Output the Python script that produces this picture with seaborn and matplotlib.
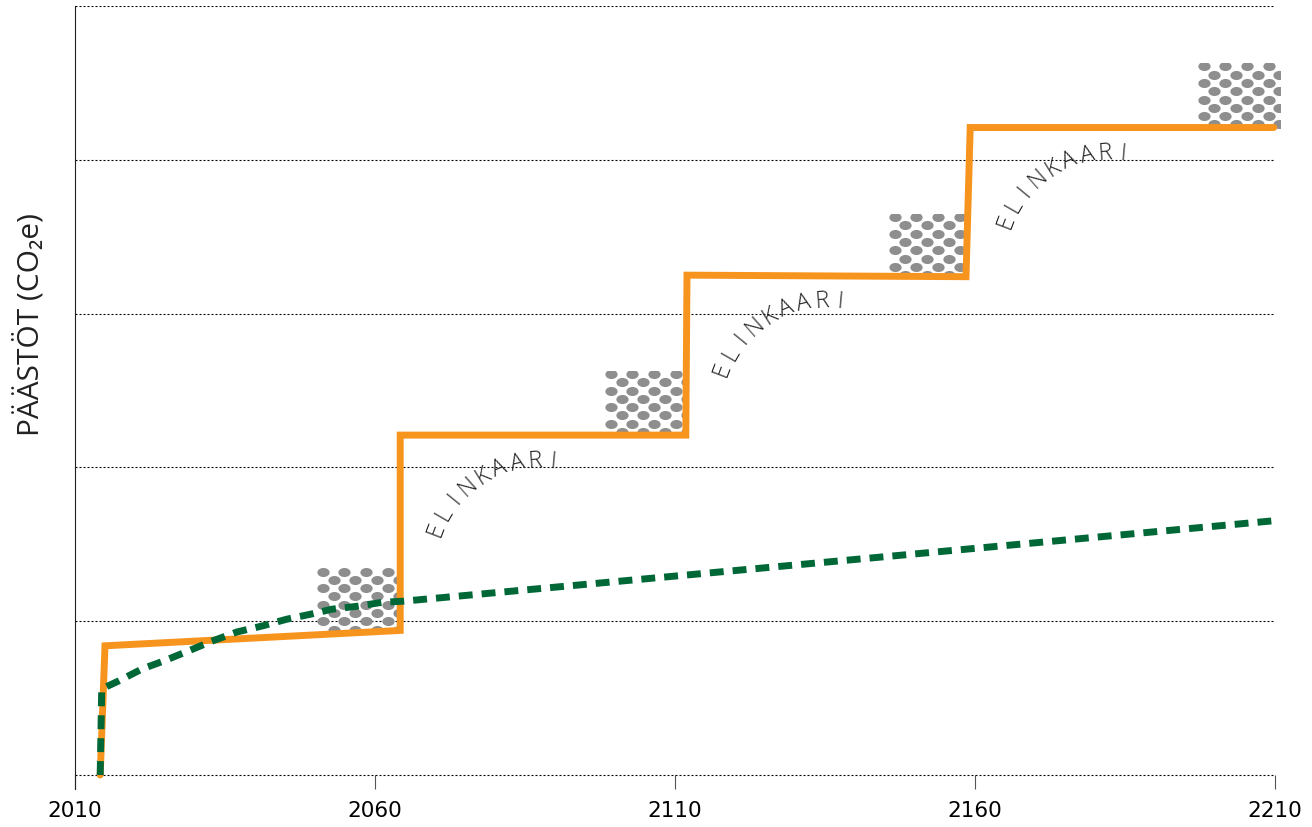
import numpy as np
import pandas as pd
import seaborn as sns
import matplotlib.pyplot as plt
from matplotlib.path import Path
from matplotlib.patches import Rectangle
from matplotlib.transforms import Affine2D

#%% datos
x_ticks = [2010, 2060, 2110, 2160, 2210]
y_grid = [0, 1, 2, 3, 4, 5]

# linea naranja (escalones)
orange_x = [2014.2, 2015.0, 2064.2, 2064.2, 2111.8, 2112.0, 2158.5, 2159.2, 2209.8]
orange_y = [0.0, 0.84, 0.94, 2.21, 2.21, 3.25, 3.24, 4.21, 4.21]

# linea verde discontinua
green_x = [2014.2, 2014.45, 2017.2, 2021.2, 2024.7, 2028.8, 2032.8, 2037.0, 2041.3,
           2045.3, 2049.2, 2052.8, 2057.0, 2061.2, 2064.7, 2210.6]
green_y = [0.0, 0.56, 0.61, 0.69, 0.74, 0.805, 0.87, 0.93, 0.97,
           1.013, 1.045, 1.078, 1.097, 1.123, 1.13, 1.656]

# cajas punteadas (x0, x1, y0, y1)
box_x0 = [2050.2, 2098.2, 2145.5, 2197.0]
box_x1 = [2063.6, 2111.8, 2158.3, 2210.8]
box_y0 = [0.93, 2.21, 3.24, 4.21]
box_y1 = [1.345, 2.63, 3.65, 4.63]

label_word = 'ELINKAARI'
step_corners = [3, 5, 7]  # indices de orange_x/orange_y donde empieza cada texto

#%% estilo
sns.set_theme(style='white')
plt.rcParams['font.family'] = ['DejaVu Sans']

orange = '#F7941D'
green = '#006837'
dot_gray = '#8e8e8e'

fig = plt.figure(figsize=(13.12, 8.28), dpi=100)
ax = fig.add_axes([75 / 1312, 38 / 828, 1200 / 1312, 783 / 828])

#%% cajas con puntos
ell = Path.unit_circle().transformed(Affine2D().scale(1.0, 0.74))
for x0, x1, y0, y1 in zip(box_x0, box_x1, box_y0, box_y1):
    rect = Rectangle((x0, y0), x1 - x0, y1 - y0, facecolor='none',
                     edgecolor='none', zorder=2)
    ax.add_patch(rect)
    px, py = [], []
    i = 0
    yy = y1 - 0.022
    while yy > y0 - 0.04:
        xx = x0 + 1.1 + (i % 2) * 1.805
        while xx < x1 + 1.0:
            px.append(xx)
            py.append(yy)
            xx += 3.61
        yy -= 0.054
        i += 1
    sc = ax.scatter(px, py, s=78, marker=ell, color=dot_gray, linewidths=0, zorder=2)
    sc.set_clip_path(rect)

#%% lineas
orange_df = pd.DataFrame({'year': orange_x, 'val': orange_y})
green_df = pd.DataFrame({'year': green_x, 'val': green_y})

sns.lineplot(data=green_df, x='year', y='val', sort=False, estimator=None,
             color=green, linewidth=5, ax=ax, zorder=3)
gl = ax.lines[-1]
gl.set_linestyle((0, (2.0, 1.3)))
gl.set_dash_capstyle('butt')
gl.set_clip_on(False)

sns.lineplot(data=orange_df, x='year', y='val', sort=False, estimator=None,
             color=orange, linewidth=5, ax=ax, zorder=4)
ol = ax.lines[-1]
ol.set_solid_capstyle('round')
ol.set_solid_joinstyle('miter')
ol.set_clip_on(False)

# la verde encima de la naranja en el arranque
gl.set_zorder(5)

#%% textos curvos ELINKAARI
n = len(label_word)
for idx in step_corners:
    corner = (orange_x[idx], orange_y[idx])
    for k, ch in enumerate(label_word):
        ang = 157.3 - k * 74.5 / (n - 1)
        a = np.deg2rad(ang)
        dx = 139 + 112 * np.cos(a)
        dy = -137 + 112 * np.sin(a)
        ax.annotate(ch, xy=corner, xytext=(dx, dy), textcoords='offset pixels',
                    rotation=ang - 88, rotation_mode='anchor', ha='center', va='center',
                    fontsize=17, color='#222222', fontweight='light',
                    family=['Open Sans', 'DejaVu Sans'], zorder=6)

#%% ejes
ax.set_xlim(2010, 2210)
ax.set_ylim(-0.091, 5.0)
ax.set_xticks(x_ticks)
ax.set_xticklabels([str(t) for t in x_ticks])
ax.set_yticks(y_grid)
ax.set_yticklabels([])
ax.tick_params(axis='y', length=0)
ax.tick_params(axis='x', direction='in', length=10, width=0.8, color='#555555',
               pad=8, labelsize=15.5, labelcolor='black', bottom=True)
ax.set_axisbelow(True)
ax.grid(axis='y', color='black', linestyle=(0, (1.8, 1.8)), linewidth=0.8)
ax.grid(axis='x', visible=False)
for s in ['top', 'right', 'bottom']:
    ax.spines[s].set_visible(False)
ax.spines['left'].set_color('#222222')
ax.spines['left'].set_linewidth(0.8)

ax.set_xlabel('')
ax.set_ylabel('PÄÄSTÖT (CO₂e)', fontsize=21.5, color='#222222',
              family=['Open Sans', 'DejaVu Sans'])
ax.yaxis.set_label_coords(-0.0245, 0.594)

fig.savefig('out.png', dpi=100)
